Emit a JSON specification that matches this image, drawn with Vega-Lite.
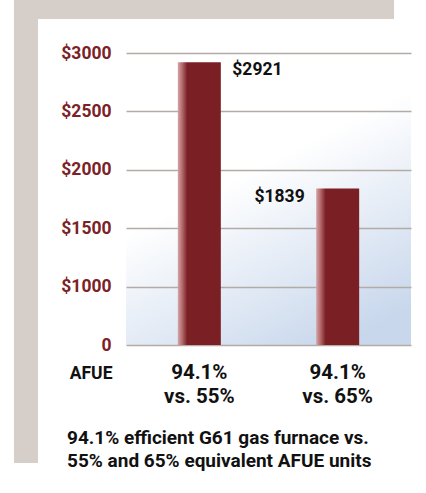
{
  "$schema": "https://vega.github.io/schema/vega-lite/v6.json",
  "padding": {"left": 14, "top": 0, "right": 15, "bottom": 0},
  "background": "#ffffff",
  "spacing": 0,
  "config": {
    "font": "Roboto, sans-serif"
  },
  "vconcat": [
    {
      "width": 380,
      "height": 19,
      "data": {"values": []},
      "mark": "rect",
      "encoding": {},
      "view": {"fill": "#d5cec9", "stroke": null}
    },
    {
      "spacing": 0,
      "hconcat": [
        {
          "width": 24,
          "height": 444,
          "data": {"values": []},
          "mark": "rect",
          "encoding": {},
          "view": {"fill": "#d5cec9", "stroke": null}
        },
        {
          "spacing": 24,
          "vconcat": [
            {
              "width": 1,
              "height": 1,
              "data": {"values": []},
              "mark": "rect",
              "encoding": {},
              "view": {"fill": null, "stroke": null}
            },
            {
              "width": 285,
              "height": 292,
              "view": {
                "stroke": null,
                "fill": {
                  "gradient": "linear",
                  "x1": 0.25, "y1": 0, "x2": 0.75, "y2": 1,
                  "stops": [
                    {"offset": 0, "color": "#ffffff"},
                    {"offset": 0.4, "color": "#ffffff"},
                    {"offset": 1, "color": "#c8d7ec"}
                  ]
                }
              },
              "title": {
                "text": ["94.1% efficient G61 gas furnace vs.", "55% and 65% equivalent AFUE units"],
                "orient": "bottom",
                "anchor": "start",
                "frame": "group",
                "dx": -59,
                "offset": 22,
                "fontSize": 19,
                "fontWeight": "bold",
                "lineHeight": 23,
                "color": "#111111",
                "font": "Roboto, sans-serif"
              },
              "data": {
                "values": [
                  {"afue": "94.1% vs. 55%", "cost": 2921},
                  {"afue": "94.1% vs. 65%", "cost": 1839}
                ]
              },
              "encoding": {
                "x": {
                  "field": "afue",
                  "type": "nominal",
                  "sort": null,
                  "scale": {"paddingInner": 0, "paddingOuter": 0.03},
                  "axis": {
                    "title": "AFUE",
                    "titleX": -14,
                    "titleY": 19,
                    "titleAlign": "right",
                    "titleBaseline": "top",
                    "titleAnchor": null,
                    "titleFontSize": 17.5,
                    "titleFontWeight": "bold",
                    "titleColor": "#111111",
                    "labelExpr": "[slice(datum.label, 0, 5), slice(datum.label, 6)]",
                    "labelAngle": 0,
                    "labelFontSize": 20.5,
                    "labelFontWeight": "bold",
                    "labelColor": "#111111",
                    "labelLineHeight": 24,
                    "labelPadding": 17,
                    "domain": false,
                    "ticks": false
                  }
                },
                "y": {
                  "field": "cost",
                  "type": "quantitative",
                  "scale": {"domain": [500, 3000], "zero": false, "nice": false},
                  "axis": {
                    "title": null,
                    "values": [500, 1000, 1500, 2000, 2500, 3000],
                    "labelExpr": "datum.value == 500 ? '0' : '$' + datum.value",
                    "labelFontSize": 17.5,
                    "labelFontWeight": "bold",
                    "labelColor": "#7b2226",
                    "labelPadding": 15,
                    "minExtent": 88,
                    "domain": false,
                    "ticks": false,
                    "grid": true,
                    "gridColor": "#b3aba5",
                    "gridWidth": 1.6,
                    "gridOpacity": 1
                  }
                }
              },
              "layer": [
                {
                  "mark": {
                    "type": "bar",
                    "size": 43,
                    "color": {
                      "gradient": "linear",
                      "x1": 0, "y1": 0, "x2": 1, "y2": 0,
                      "stops": [
                        {"offset": 0, "color": "#d4a6a7"},
                        {"offset": 0.1, "color": "#b46a6d"},
                        {"offset": 0.22, "color": "#7a1f24"},
                        {"offset": 1, "color": "#7a1f24"}
                      ]
                    }
                  },
                  "encoding": {"y2": {"datum": 500}}
                },
                {
                  "transform": [{"filter": "datum.cost > 2000"}],
                  "mark": {
                    "type": "text",
                    "align": "left",
                    "baseline": "top",
                    "dx": 33,
                    "dy": -1,
                    "fontSize": 17.5,
                    "fontWeight": "bold",
                    "color": "#111111"
                  },
                  "encoding": {"text": {"field": "cost", "type": "quantitative", "format": "$d"}}
                },
                {
                  "transform": [{"filter": "datum.cost <= 2000"}],
                  "mark": {
                    "type": "text",
                    "align": "right",
                    "baseline": "top",
                    "dx": -33,
                    "dy": -1,
                    "fontSize": 17.5,
                    "fontWeight": "bold",
                    "color": "#111111"
                  },
                  "encoding": {"text": {"field": "cost", "type": "quantitative", "format": "$d"}}
                }
              ]
            }
          ]
        }
      ]
    }
  ]
}
